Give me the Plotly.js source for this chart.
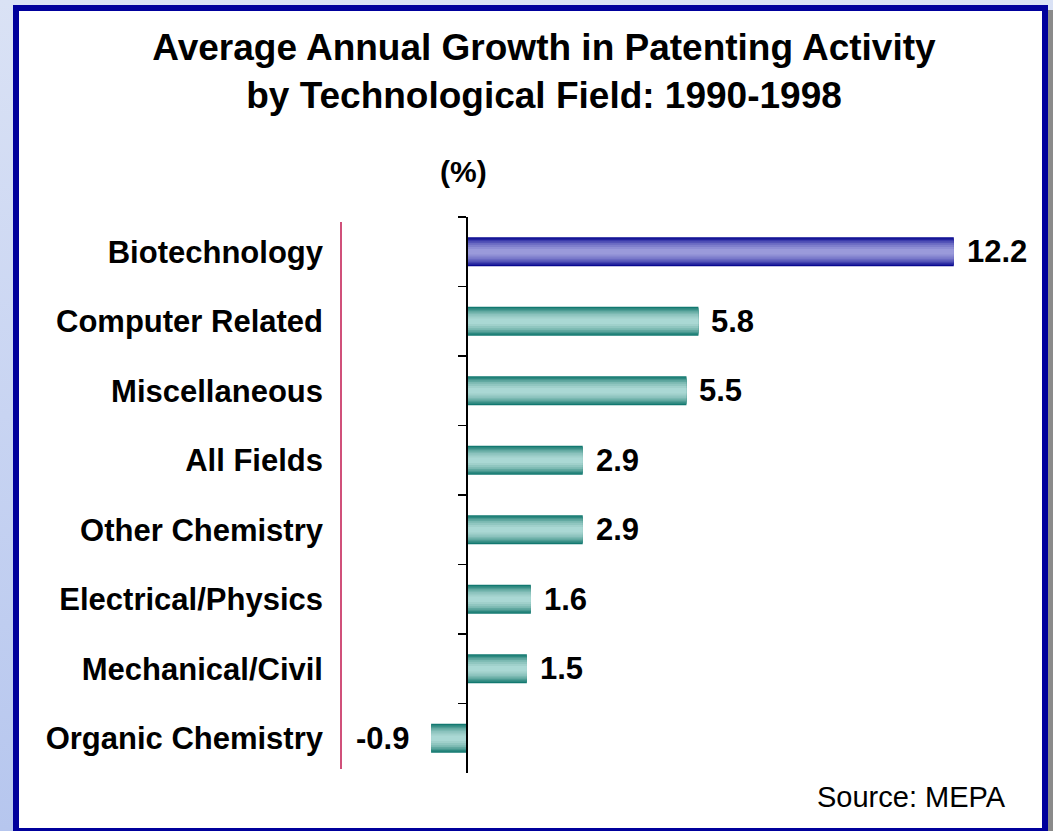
<!DOCTYPE html>
<html>
<head>
<meta charset="utf-8">
<script src="https://cdn.plot.ly/plotly-3.0.1.min.js"></script>
<style>
  html, body { margin:0; padding:0; width:1053px; height:831px; overflow:hidden;
    background: linear-gradient(to bottom, #dae2f5 0%, #c8d4f2 50%, #b6c6ee 100%); }
  #panel { position:absolute; left:13px; top:5px; width:1035px; height:829px; box-sizing:border-box;
    background:#ffffff; border:6px solid #00009c; box-shadow: 5px 5px 0 #8a8a8a; }
  #chart { position:absolute; left:0; top:0; width:1053px; height:831px; }
</style>
</head>
<body>
<div id="panel"></div>
<div id="chart"></div>
<script>
// ---- data ----
const categories = ["Biotechnology", "Computer Related", "Miscellaneous", "All Fields",
                    "Other Chemistry", "Electrical/Physics", "Mechanical/Civil", "Organic Chemistry"];
const growthPct = [12.2, 5.8, 5.5, 2.9, 2.9, 1.6, 1.5, -0.9];
const valueLabels = ["12.2", "5.8", "5.5", "2.9", "2.9", "1.6", "1.5", "-0.9"];

// ---- style ----
const FONT = '"Liberation Sans", Arial, sans-serif';
const W = 1053, H = 831;
const margin = {l: 341, r: 23, t: 217, b: 58};
const xRange = [-3.158, 14.11];

// shading layers (cylinder-like gradient): width, teal colour, blue colour
const layers = [
  {w: 0.42, teal: '#127870', blue: '#080890'},
  {w: 0.38, teal: '#2c887f', blue: '#22229e'},
  {w: 0.34, teal: '#479890', blue: '#3c3cac'},
  {w: 0.30, teal: '#62a9a1', blue: '#5454b8'},
  {w: 0.25, teal: '#7bb9b2', blue: '#6a6ac2'},
  {w: 0.20, teal: '#90c6c0', blue: '#7e7ecc'},
  {w: 0.14, teal: '#a0d0cb', blue: '#8e8ed4'},
  {w: 0.08, teal: '#aad8d4', blue: '#9a9ada'}
];

const traces = [];
// invisible trace on the label axis so it gets the categories
traces.push({
  type: 'scatter', mode: 'none', x: growthPct.map(() => 0), y: categories,
  yaxis: 'y', xaxis: 'x', hoverinfo: 'skip', showlegend: false
});
layers.forEach(L => {
  traces.push({
    type: 'bar', orientation: 'h', x: growthPct, y: categories,
    xaxis: 'x', yaxis: 'y2', width: L.w,
    marker: {color: categories.map((c, i) => i === 0 ? L.blue : L.teal), line: {width: 0}},
    hoverinfo: 'x+y', showlegend: false
  });
});

const pw = W - margin.l - margin.r, ph = H - margin.t - margin.b;
const px2x = p => (p - margin.l) / pw;
const px2y = p => 1 - (p - margin.t) / ph;

const annotations = growthPct.map((v, i) => ({
  x: v, y: categories[i], xref: 'x', yref: 'y2',
  text: valueLabels[i], showarrow: false,
  xanchor: v >= 0 ? 'left' : 'right', xshift: v >= 0 ? 11 : -20,
  font: {family: FONT, size: 31, color: '#000000', weight: 'bold'}
}));
annotations.push({
  x: px2x(463), y: px2y(171), xref: 'paper', yref: 'paper',
  text: '<b>(%)</b>', showarrow: false, xanchor: 'center', yanchor: 'middle',
  font: {family: FONT, size: 30, color: '#000000'}
});
annotations.push({
  x: px2x(1008), y: px2y(797), xref: 'paper', yref: 'paper',
  text: 'Source: MEPA', showarrow: false, xanchor: 'right', yanchor: 'middle',
  font: {family: FONT, size: 29, color: '#000000'}
});

const zeroPos = (0 - xRange[0]) / (xRange[1] - xRange[0]);

const layout = {
  width: W, height: H,
  margin: margin,
  paper_bgcolor: 'rgba(0,0,0,0)', plot_bgcolor: 'rgba(0,0,0,0)',
  barmode: 'overlay',
  font: {family: FONT, color: '#000000'},
  title: {
    text: '<b>Average Annual Growth in Patenting Activity<br>by Technological Field: 1990-1998</b>',
    x: 544 / W, xref: 'container', xanchor: 'center',
    y: 1 - 60 / H, yref: 'container', yanchor: 'top',
    font: {family: FONT, size: 37, color: '#000000'}
  },
  xaxis: {
    range: xRange, showgrid: false, zeroline: false, showline: false,
    showticklabels: false, ticks: '', fixedrange: true
  },
  yaxis: {
    type: 'category', range: [7.5, -0.5], showgrid: false, zeroline: false,
    showline: false, ticks: '',
    tickfont: {family: FONT, size: 31, color: '#000000', weight: 'bold'},
    ticklabelstandoff: 17
  },
  yaxis2: {
    type: 'category', range: [7.5, -0.5], overlaying: 'y', anchor: 'free', position: zeroPos,
    side: 'left', showgrid: false, zeroline: false, showline: true, linecolor: '#000000', linewidth: 2,
    ticks: 'outside', tickson: 'boundaries', ticklen: 8, tickwidth: 1.5, tickcolor: '#000000',
    showticklabels: false
  },
  shapes: [{
    type: 'line', xref: 'paper', yref: 'paper', x0: 0, x1: 0,
    y0: px2y(222), y1: px2y(769),
    line: {color: '#d0507a', width: 2}
  }],
  annotations: annotations
};

Plotly.newPlot('chart', traces, layout, {displayModeBar: false, staticPlot: true});
</script>
</body>
</html>
